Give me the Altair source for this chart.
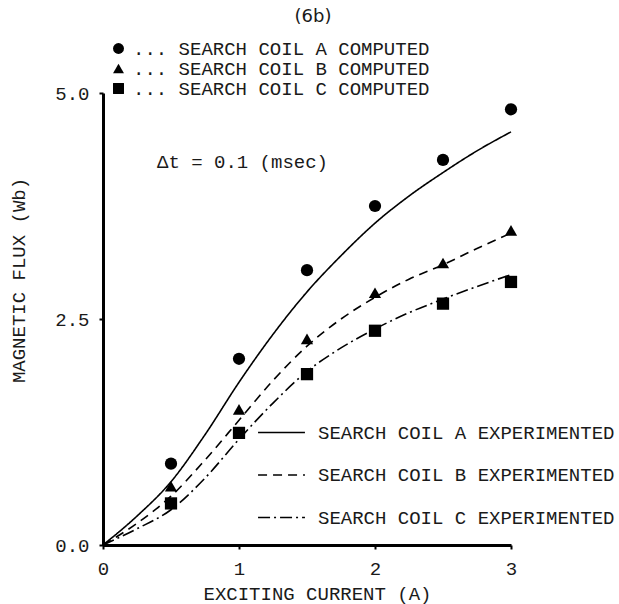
import altair as alt
import pandas as pd

# ---- data ----
coils = ["A", "B", "C"]
pt_current = [0.5, 1.0, 1.5, 2.0, 2.5, 3.0]
pt_flux_A = [0.90, 2.06, 3.04, 3.75, 4.26, 4.82]
pt_flux_B = [0.65, 1.50, 2.28, 2.79, 3.12, 3.48]
pt_flux_C = [0.46, 1.24, 1.89, 2.37, 2.67, 2.91]

cv_current = [0, 0.25, 0.5, 0.75, 1.0, 1.25, 1.5, 1.75, 2.0, 2.25, 2.5, 2.75, 3.0]
cv_flux_A = [0, 0.32, 0.70, 1.22, 1.80, 2.33, 2.80, 3.20, 3.56, 3.86, 4.12, 4.36, 4.57]
cv_flux_B = [0, 0.24, 0.54, 0.94, 1.38, 1.82, 2.20, 2.50, 2.74, 2.94, 3.10, 3.28, 3.45]
cv_flux_C = [0, 0.18, 0.39, 0.74, 1.17, 1.57, 1.92, 2.18, 2.39, 2.57, 2.72, 2.86, 2.99]

pt_labels = ["... SEARCH COIL A COMPUTED", "... SEARCH COIL B COMPUTED", "... SEARCH COIL C COMPUTED"]
cv_labels = ["SEARCH COIL A EXPERIMENTED", "SEARCH COIL B EXPERIMENTED", "SEARCH COIL C EXPERIMENTED"]

x_ticks = [0, 1, 2, 3]
y_ticks = [0, 2.5, 5.0]

chart_title = ["(6b)"]
note_text = ["\u0394t = 0.1 (msec)"]

FONT = "Liberation Mono"
INK = "#1a1a1a"

pts = pd.DataFrame(
    [{"coil": pt_labels[i], "current": c, "flux": f}
     for i, arr in enumerate([pt_flux_A, pt_flux_B, pt_flux_C])
     for c, f in zip(pt_current, arr)]
)
curves = pd.DataFrame(
    [{"coil": cv_labels[i], "current": c, "flux": f}
     for i, arr in enumerate([cv_flux_A, cv_flux_B, cv_flux_C])
     for c, f in zip(cv_current, arr)]
)
note = pd.DataFrame({"current": [0.397], "flux": [4.24], "text": note_text})
title_df = pd.DataFrame({"text": chart_title})

xs = alt.Scale(domain=[0, 3], nice=False)
ys = alt.Scale(domain=[0, 5], nice=False)

x_enc = alt.X(
    "current:Q", scale=xs,
    axis=alt.Axis(values=x_ticks, format="d", title="EXCITING CURRENT (A)", labelFlush=False,
                  titleX=214, titleY=48, titleBaseline="middle", titleAlign="center"),
)
y_enc = alt.Y(
    "flux:Q", scale=ys,
    axis=alt.Axis(values=y_ticks, format=".1f", title="MAGNETIC FLUX (Wb)", labelFlush=False,
                  titleX=-85, titleY=187, titleBaseline="middle", titleAlign="center",
                  titleAngle=-90),
)

lines = alt.Chart(curves).mark_line(color="black", strokeWidth=1.6, interpolate="monotone").encode(
    x=x_enc, y=y_enc,
    strokeDash=alt.StrokeDash(
        "coil:N",
        scale=alt.Scale(domain=cv_labels, range=[[1, 0], [9, 6], [12, 4, 2, 4]]),
        legend=alt.Legend(
            orient="none", legendX=154, legendY=315, title=None,
            symbolType="stroke", symbolSize=2200, symbolStrokeWidth=1.6,
            symbolStrokeColor="black", labelFont=FONT, labelFontSize=19,
            labelColor=INK, labelOffset=12, rowPadding=7.5, padding=0, labelLimit=0,
        ),
    ),
)

points = alt.Chart(pts).mark_point(filled=True, color="black", opacity=1, size=150).encode(
    x="current:Q", y="flux:Q",
    shape=alt.Shape(
        "coil:N",
        scale=alt.Scale(domain=pt_labels, range=["circle", "triangle-up", "square"]),
        legend=alt.Legend(
            orient="none", legendX=6, legendY=-54, title=None,
            symbolSize=120, symbolFillColor="black", symbolStrokeColor="black",
            symbolOpacity=1, labelFont=FONT, labelFontSize=19, labelColor=INK,
            labelOffset=5, rowPadding=-1, padding=0, labelLimit=0,
        ),
    ),
)

note_txt = alt.Chart(note).mark_text(
    align="left", baseline="middle", font=FONT, fontSize=19, color=INK
).encode(x="current:Q", y="flux:Q", text="text:N")

title_txt = alt.Chart(title_df).mark_text(
    align="center", baseline="middle", font="DejaVu Sans", fontSize=18, color=INK
).encode(x=alt.value(210), y=alt.value(-76), text="text:N")

chart = (
    alt.layer(lines, points, note_txt, title_txt)
    .resolve_legend(shape="independent", strokeDash="independent")
    .properties(
        width=408, height=452,
        autosize=alt.AutoSizeParams(type="none"),
        padding={"left": 103, "top": 93, "right": 108, "bottom": 59},
    )
    .configure_view(stroke=None)
    .configure_axis(
        grid=False, domainColor="black", domainWidth=3, tickColor="black",
        tickWidth=2, tickSize=4, labelFont=FONT, labelFontSize=19, labelColor=INK,
        titleFont=FONT, titleFontSize=19, titleColor=INK, titleFontWeight="normal",
    )
    .configure_axisX(labelPadding=10)
    .configure_axisY(labelPadding=10)
)

chart.save("out.html", embed_options={"renderer": "svg", "actions": False})
